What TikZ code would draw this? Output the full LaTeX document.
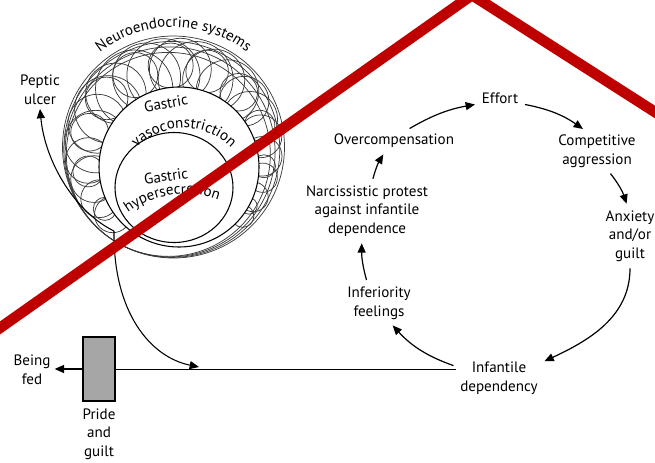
\documentclass[tikz,border=0pt]{standalone}
\usepackage{fontspec}
\setmainfont{PT Sans}
\usetikzlibrary{arrows.meta,positioning,calc,decorations.text}
\definecolor{boxgray}{HTML}{A6A6A6}
\definecolor{slashred}{HTML}{BF0000}
\definecolor{loopgray}{HTML}{3A3A3A}
\newcommand\lblfont{\fontsize{11.3}{13.9}\selectfont}
\tikzset{
  txt/.style={align=center,font=\lblfont,inner sep=3pt},
  cyc/.style={-{Triangle[length=7pt,width=6pt]},line width=0.9pt,shorten <=2pt,shorten >=2pt},
  arrow/.style={-{Triangle[length=7pt,width=6pt]},line width=0.8pt},
  thinline/.style={line width=0.75pt},
  ring/.style={line width=0.55pt,draw=loopgray},
  pouch/.style={draw,fill=white,line width=0.8pt},
  feedbox/.style={rectangle,draw,fill=boxgray,line width=0.8pt,minimum width=24pt,minimum height=48pt},
  slash/.style={line width=8pt,draw=slashred}
}

\begin{document}
\begin{tikzpicture}[x=0.75pt,y=0.75pt]
  \useasboundingbox (0,0) rectangle (655,462);
  % personality cycle
  \node[txt] (effort) at (500,364) {Effort};
  \node[txt] (comp) at (597,311) {Competitive\\aggression};
  \node[txt] (anxiety) at (630,226) {Anxiety\\and/or\\guilt};
  \node[txt] (infantile) at (499,84) {Infantile\\dependency};
  \node[txt] (inferior) at (379,159) {Inferiority\\feelings};
  \node[txt] (narc) at (367,251) {Narcissistic protest\\against infantile\\dependence};
  \node[txt] (over) at (394,321) {Overcompensation};
  \draw[cyc] (effort.-15) to[bend left=12] (comp.120);
  \draw[cyc] (comp.-60) to[bend left=10] (anxiety.95);
  \draw[cyc] (anxiety.south) to[out=-90,in=25] (infantile.20);
  \draw[cyc] (infantile.165) to[bend left=14] (inferior.-60);
  \draw[cyc] (inferior.120) to[bend left=8] (narc.-100);
  \draw[cyc] (narc.80) to[bend left=8] (over.-130);
  \draw[cyc] (over.40) to[bend left=10] (effort.195);
  % feeding line
  \node[feedbox] (box) at (99,93) {};
  \node[txt] (fed) at (32,92) {Being\\fed};
  \node[txt] (pride) at (99,28) {Pride\\and\\guilt};
  \draw[thinline] (box.east) -- (box.east -| infantile.west);
  \draw[arrow] (box.west) -- (box.west -| fed.east);
  % stomach rings
  \coordinate (core) at (173.5,315);
  \coordinate (tang) at ($(core)+(235:111)$);
  \foreach \a/\k in {-45/0.6,-32/0.7,-19/0.55,-6/0.65,7/0.6,20/0.7,33/0.55,46/0.65,
      59/0.6,72/0.7,85/0.55,98/0.65,111/0.6,124/0.7,137/0.55,150/0.65,163/0.6,
      176/0.7,189/0.55,202/0.65,215/0.6,228/0.7} {
    \pgfmathsetmacro\ud{5.5*cos(\a)-20*sin(\a)}
    \pgfmathsetmacro\s{\ud+sqrt(\ud*\ud+5970)}
    \pgfmathsetmacro\rr{\k*(111-\s)+3}
    \pgfmathsetmacro\m{109-\rr}
    \draw[ring] ($(core)+(\a:\m)$) circle[radius=\rr];
  }
  \foreach \a in {-38,-12,...,222} {
    \pgfmathsetmacro\ud{5.5*cos(\a)-20*sin(\a)}
    \pgfmathsetmacro\s{\ud+sqrt(\ud*\ud+5970)}
    \pgfmathsetmacro\rr{0.4*(111-\s)+2}
    \pgfmathsetmacro\m{104-\rr}
    \draw[ring] ($(core)+(\a:\m)$) circle[radius=\rr];
  }
  \foreach \r in {111,108,105,102}
    \draw[ring] ($(tang)+(55:\r)$) circle[radius=\r];
  \coordinate (vaso) at (179,295);
  \coordinate (hyper) at (174,274.5);
  \draw[pouch] (vaso) circle[radius=80];
  \draw[pouch] (hyper) ellipse[x radius=59,y radius=55];
  \path[decorate,decoration={text along path,text align=center,
    text={|\lblfont|Neuroendocrine systems}}]
    ($(core)+(152:120)$) arc[start angle=152,end angle=28,radius=120];
  \node[txt,rotate=10] (vasotop) at (166,359) {Gastric};
  \path[decorate,decoration={text along path,text align=center,
    text={|\lblfont|vasoconstriction}}]
    ($(184,268)+(145:66)$) arc[start angle=145,end angle=35,radius=66];
  \node[txt,rotate=8] (hypertop) at (166,286) {Gastric};
  \path[decorate,decoration={text along path,text align=center,
    text={|\lblfont|hypersecretion}}]
    ($(185,172)+(136:96)$) arc[start angle=136,end angle=60,radius=96];
  % outflows
  \node[txt] (peptic) at (40,372) {Peptic\\ulcer};
  \coordinate (stem) at (114,231);
  \coordinate (join) at (199,95);
  \draw[arrow] (stem) .. controls (75,250) and (45,300) .. (peptic.south);
  \draw[arrow] (stem) .. controls (113,150) and (150,105) .. (join);
  % crossing-out
  \begin{scope}
    \clip (0,0) rectangle (655,462);
    \draw[slash] (-20,120) -- (472,467) -- (680,334);
  \end{scope}
\end{tikzpicture}
\end{document}
